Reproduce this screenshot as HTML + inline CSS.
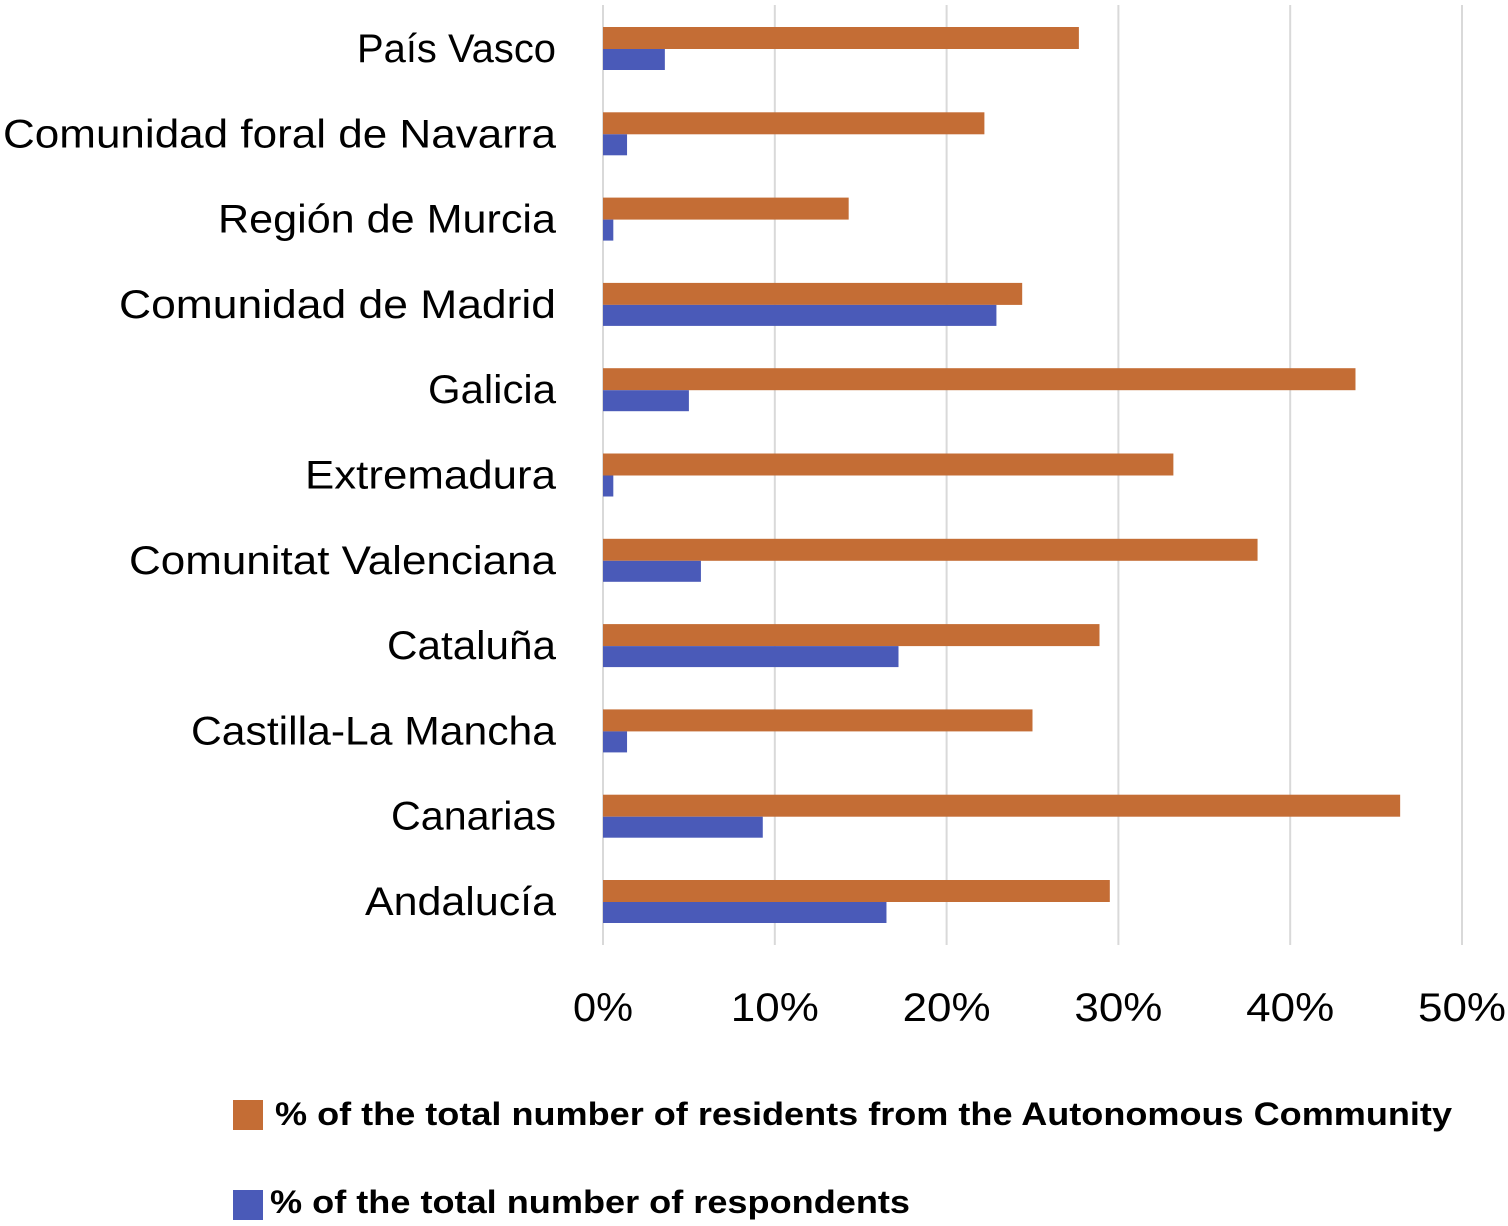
<!DOCTYPE html>
<html><head><meta charset="utf-8"><style>
body{margin:0;background:#fff;}
svg{display:block;font-family:"Liberation Sans",sans-serif;}
</style></head><body>
<svg id="chart" width="1508" height="1226"></svg>
<script>
const categories=["País Vasco","Comunidad foral de Navarra","Región de Murcia","Comunidad de Madrid","Galicia","Extremadura","Comunitat Valenciana","Cataluña","Castilla-La Mancha","Canarias","Andalucía"];
const residentsPct=[27.7,22.2,14.3,24.4,43.8,33.2,38.1,28.9,25.0,46.4,29.5];
const respondentsPct=[3.6,1.4,0.6,22.9,5.0,0.6,5.7,17.2,1.4,9.3,16.5];
const ticks=[0,10,20,30,40,50];
const tickLabels=["0%","10%","20%","30%","40%","50%"];
const labelWidths=[199,553,338,437,128,251,427,169,365,165,191];
const NS="http://www.w3.org/2000/svg";
const svg=document.getElementById('chart');
const x=v=>603+v*17.18;
const yc=i=>49+i*85.3;
function mk(t,a){const e=document.createElementNS(NS,t);for(const k in a)e.setAttribute(k,a[k]);svg.appendChild(e);return e;}
ticks.forEach((t,i)=>{
 const g=mk('line',{x1:x(t),x2:x(t),y1:5,y2:945,stroke:'#d9d9d9','stroke-width':2});
 
 
 const l=mk('text',{x:x(t),y:1021,'text-anchor':'middle','font-size':40,fill:'#000',textLength:t===0?60:88,lengthAdjust:'spacingAndGlyphs'});
 l.textContent=tickLabels[i];
 
 
});
categories.forEach((c,i)=>{
 const y=yc(i);
 const o=mk('rect',{x:x(0),y:y-22,width:x(residentsPct[i])-x(0),height:22,fill:'#C46D35'});
 
 
 const b=mk('rect',{x:x(0),y:y,width:x(respondentsPct[i])-x(0),height:21,fill:'#4A5AB8'});
 
 
 const t=mk('text',{x:556,y:y+13,'text-anchor':'end','font-size':40,fill:'#000',textLength:labelWidths[i],lengthAdjust:'spacingAndGlyphs'});
 t.textContent=c;
 
 
});
const s1=mk('rect',{x:233,y:1100,width:30,height:30,fill:'#C46D35'});


const l1=mk('text',{x:275,y:1125,'font-size':32,'font-weight':'bold',fill:'#000',textLength:1177,lengthAdjust:'spacingAndGlyphs'});
l1.textContent="% of the total number of residents from the Autonomous Community";


const s2=mk('rect',{x:233,y:1190,width:30,height:30,fill:'#4A5AB8'});


const l2=mk('text',{x:270,y:1213,'font-size':32,'font-weight':'bold',fill:'#000',textLength:640,lengthAdjust:'spacingAndGlyphs'});
l2.textContent="% of the total number of respondents";


</script>
</body></html>
